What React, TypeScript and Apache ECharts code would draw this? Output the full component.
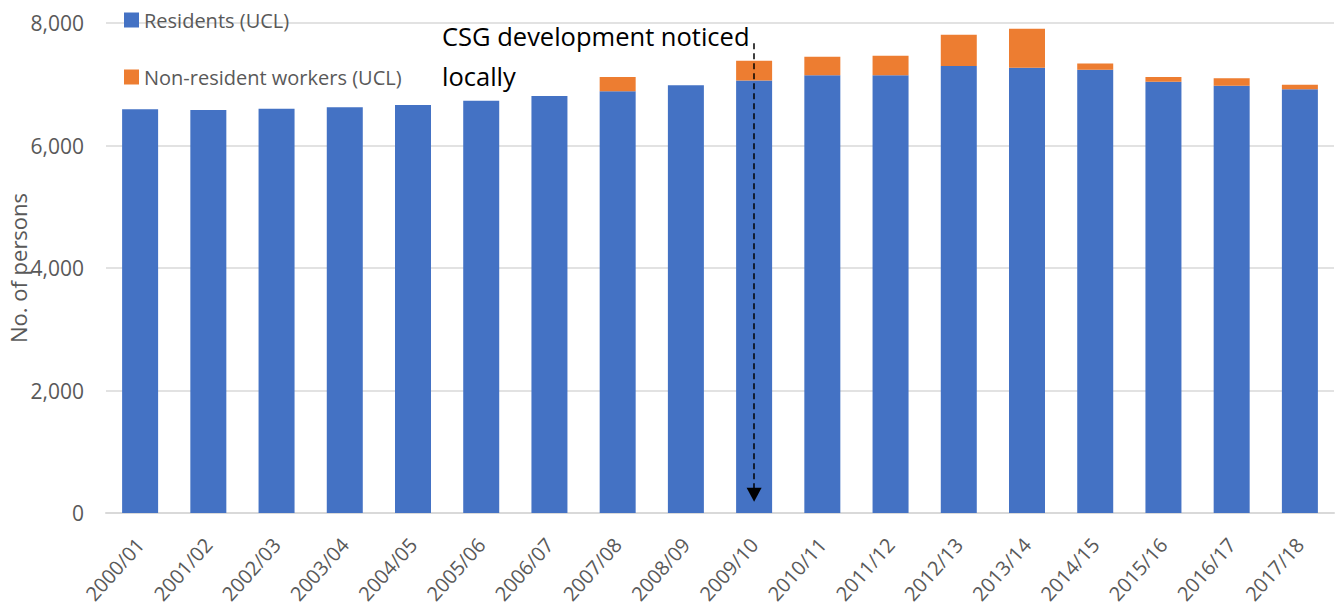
import React, { useEffect, useRef } from "react";
import * as echarts from "echarts";

const categories = [
  "2000/01", "2001/02", "2002/03", "2003/04", "2004/05", "2005/06",
  "2006/07", "2007/08", "2008/09", "2009/10", "2010/11", "2011/12",
  "2012/13", "2013/14", "2014/15", "2015/16", "2016/17", "2017/18",
];
const residents = [
  6590, 6580, 6600, 6625, 6660, 6730, 6810, 6885, 6985, 7060, 7145, 7145,
  7300, 7270, 7235, 7040, 6975, 6920,
];
const nonResidentWorkers = [
  0, 0, 0, 0, 0, 0, 0, 235, 0, 325, 305, 320, 510, 635, 105, 80, 125, 70,
];
const annotationLines = ["CSG development noticed", "locally"];
const annotationCategory = "2009/10";
const arrowFrom = 7670;
const arrowTo = 300;

const FONT = "'Open Sans', 'Noto Sans', sans-serif";
const GREY = "#595959";

export default function App() {
  const ref = useRef<HTMLDivElement>(null);
  useEffect(() => {
    document.body.style.margin = "0";
    if (!ref.current) return;
    const chart = echarts.init(ref.current, undefined, { renderer: "svg" });
    chart.setOption({
      animation: false,
      textStyle: { fontFamily: FONT },
      grid: {
        left: 106,
        right: 2,
        top: 23,
        bottom: 99,
        containLabel: false,
        outerBoundsMode: "none",
      },
      legend: {
        orient: "vertical",
        left: 119,
        top: 3,
        itemWidth: 15,
        itemHeight: 15,
        itemGap: 33,
        icon: "rect",
        textStyle: { color: GREY, fontSize: 20, lineHeight: 24, fontFamily: FONT },
        data: ["Residents (UCL)", "Non-resident workers (UCL)"],
      },
      xAxis: {
        type: "category",
        data: categories,
        axisLine: { lineStyle: { color: "#d9d9d9", width: 2 } },
        axisTick: { show: false },
        axisLabel: { color: GREY, fontSize: 20, rotate: 48, margin: 28, interval: 0 },
      },
      yAxis: {
        type: "value",
        min: 0,
        max: 8000,
        interval: 2000,
        name: "No. of persons",
        nameLocation: "middle",
        nameGap: 77,
        nameMoveOverlap: false,
        nameTextStyle: { color: GREY, fontSize: 22 },
        axisLine: { show: false },
        axisTick: { show: false },
        axisLabel: {
          color: GREY,
          fontSize: 21,
          margin: 22,
          formatter: (v: number) => v.toLocaleString("en-US"),
        },
        splitLine: { lineStyle: { color: "#d9d9d9", width: 1.5 } },
      },
      series: [
        {
          name: "Residents (UCL)",
          type: "bar",
          stack: "total",
          barWidth: 36,
          data: residents,
          itemStyle: { color: "#4472C4" },
          markLine: {
            silent: true,
            symbol: ["none", "triangle"],
            symbolSize: [15, 14],
            label: { show: false },
            lineStyle: { color: "#000", type: [6, 4], width: 1.5 },
            data: [
              [
                { coord: [annotationCategory, arrowFrom] },
                { coord: [annotationCategory, arrowTo] },
              ],
            ],
          },
        },
        {
          name: "Non-resident workers (UCL)",
          type: "bar",
          stack: "total",
          barWidth: 36,
          data: nonResidentWorkers,
          itemStyle: { color: "#ED7D31" },
        },
      ],
      graphic: annotationLines.map((t, i) => ({
        type: "text",
        left: 442,
        top: 23 + i * 40,
        style: { text: t, fill: "#000", fontSize: 25.5, fontFamily: FONT },
      })),
    });
    return () => chart.dispose();
  }, []);
  return <div ref={ref} style={{ width: 1336, height: 612 }} />;
}
